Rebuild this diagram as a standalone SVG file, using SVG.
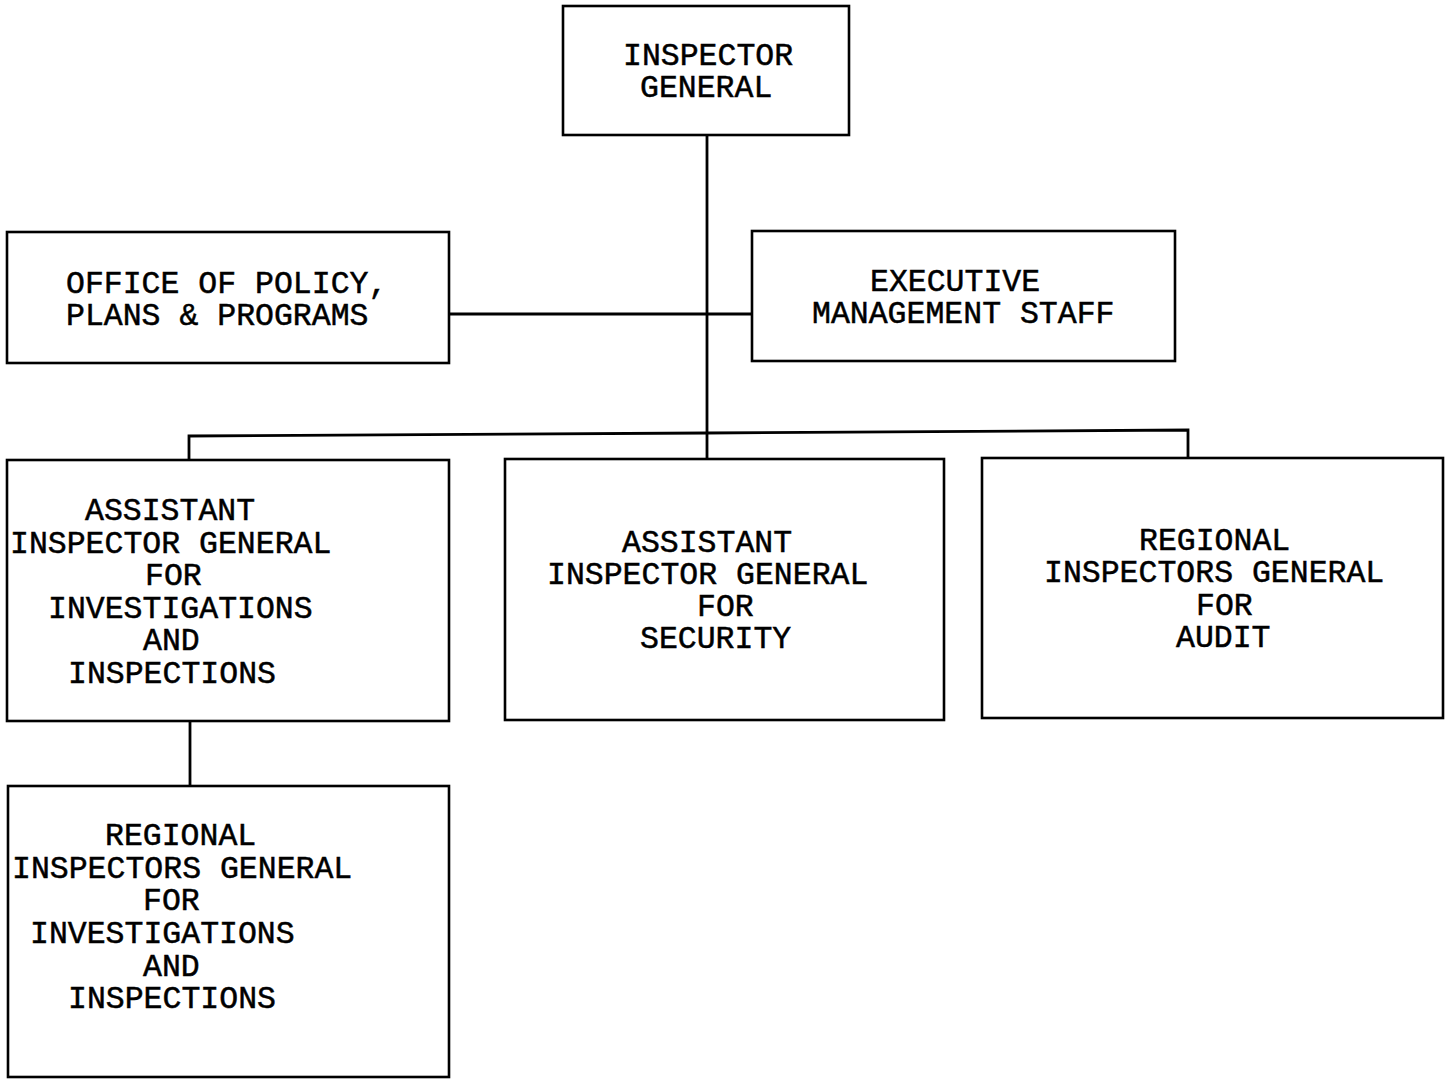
<svg xmlns="http://www.w3.org/2000/svg" width="1446" height="1079" viewBox="0 0 1446 1079">
<style>
.box{fill:#fff;stroke:#000;stroke-width:2.6}
.ln{fill:none;stroke:#000;stroke-width:2.8}
text{font-family:"Liberation Mono","Courier New",monospace;font-size:31.5px;fill:#000;stroke:#000;stroke-width:0.5}
</style>
<rect width="1446" height="1079" fill="#fff"/>
<g id="connectors">
<line class="ln" x1="707" y1="135" x2="707" y2="459"/>
<line class="ln" x1="449" y1="314" x2="752" y2="314"/>
<polyline class="ln" points="189,460 189,436 707,433 1188,430 1188,458"/>
<line class="ln" x1="190" y1="721" x2="190" y2="786"/>
</g>
<g id="inspector-general">
<rect class="box" x="563" y="6" width="286" height="129"/>
<text x="623" y="65">INSPECTOR</text>
<text x="640" y="97">GENERAL</text>
</g>
<g id="office-policy">
<rect class="box" x="7" y="232" width="442" height="131"/>
<text x="66" y="293">OFFICE OF POLICY,</text>
<text x="66" y="325">PLANS &amp; PROGRAMS</text>
</g>
<g id="executive-management">
<rect class="box" x="752" y="231" width="423" height="130"/>
<text x="870" y="291">EXECUTIVE</text>
<text x="812" y="323">MANAGEMENT STAFF</text>
</g>
<g id="aig-investigations">
<rect class="box" x="7" y="460" width="442" height="261"/>
<text x="85" y="520">ASSISTANT</text>
<text x="10" y="553">INSPECTOR GENERAL</text>
<text x="145" y="585">FOR</text>
<text x="48" y="618">INVESTIGATIONS</text>
<text x="143" y="650">AND</text>
<text x="68" y="683">INSPECTIONS</text>
</g>
<g id="aig-security">
<rect class="box" x="505" y="459" width="439" height="261"/>
<text x="622" y="552">ASSISTANT</text>
<text x="547" y="584">INSPECTOR GENERAL</text>
<text x="697" y="616">FOR</text>
<text x="640" y="648">SECURITY</text>
</g>
<g id="rig-audit">
<rect class="box" x="982" y="458" width="461" height="260"/>
<text x="1139" y="550">REGIONAL</text>
<text x="1044" y="582">INSPECTORS GENERAL</text>
<text x="1196" y="615">FOR</text>
<text x="1176" y="647">AUDIT</text>
</g>
<g id="rig-investigations">
<rect class="box" x="8" y="786" width="441" height="291"/>
<text x="105" y="845">REGIONAL</text>
<text x="12" y="878">INSPECTORS GENERAL</text>
<text x="143" y="910">FOR</text>
<text x="30" y="943">INVESTIGATIONS</text>
<text x="143" y="976">AND</text>
<text x="68" y="1008">INSPECTIONS</text>
</g>
</svg>
